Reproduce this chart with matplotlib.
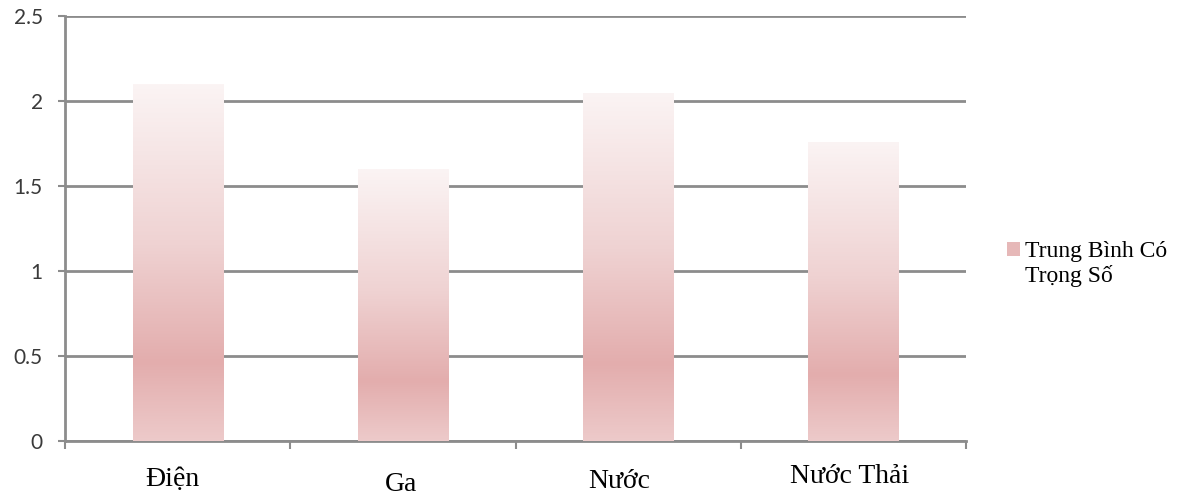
import numpy as np
import matplotlib
matplotlib.use("Agg")
import matplotlib.pyplot as plt
from matplotlib.colors import LinearSegmentedColormap
from matplotlib.patches import Patch, Rectangle
from matplotlib.legend_handler import HandlerPatch
import matplotlib.transforms as mtransforms

categories = ["Điện", "Ga", "Nước", "Nước Thải"]
values = [2.1, 1.6, 2.05, 1.76]
series_name = "Trung Bình Có\nTrọng Số"
yticks = [0, 0.5, 1, 1.5, 2, 2.5]
ytick_labels = ["0", "0.5", "1", "1.5", "2", "2.5"]

# gradient: bottom -> top
grad = LinearSegmentedColormap.from_list(
    "pinkgrad", [(0.0, "#edcaca"), (0.22, "#e3adad"), (0.55, "#efd2d2"), (1.0, "#fbf4f4")])

fig = plt.figure(figsize=(11.78, 4.96), dpi=100)
ax = fig.add_axes([65 / 1178, 55 / 496, 901 / 1178, 425 / 496])

x = np.arange(len(categories))
bars = ax.bar(x, values, width=0.4, color="none", edgecolor="none", zorder=3)
g = np.linspace(0, 1, 256).reshape(-1, 1)
for b in bars:
    x0, w, h = b.get_x(), b.get_width(), b.get_height()
    im = ax.imshow(g, cmap=grad, origin="lower", aspect="auto",
                   extent=(x0, x0 + w, 0, h), zorder=3)
    im.set_clip_path(b)

ax.set_xlim(-0.5, len(categories) - 0.5)
ax.set_ylim(0, 2.5)

ax.set_yticks(yticks)
ax.set_yticklabels(ytick_labels, family="Lato", fontsize=15, color="#3a3a3a")
ax.yaxis.grid(True, color="#8c8c8c", linewidth=2, zorder=1)
ax.set_axisbelow(True)

# category boundaries as x ticks
ax.set_xticks(np.arange(len(categories) + 1) - 0.5)
ax.set_xticklabels([])
ax.tick_params(axis="x", length=6, width=1.5, color="#8c8c8c", direction="out")
ax.tick_params(axis="y", length=5, width=1.5, color="#8c8c8c", pad=11)

for s in ["top", "right"]:
    ax.spines[s].set_visible(False)
for s in ["left", "bottom"]:
    ax.spines[s].set_color("#8c8c8c")
    ax.spines[s].set_linewidth(2)

# the category labels sit a little unevenly in the original
trans = mtransforms.blended_transform_factory(ax.transData, ax.transAxes)
label_dx = [-0.022, -0.009, -0.04, -0.018]
label_dy = [-0.106, -0.118, -0.111, -0.099]
for xi, lab, dx, dy in zip(x, categories, label_dx, label_dy):
    ax.text(xi + dx, dy, lab, transform=trans, ha="center", va="baseline",
            family="Liberation Serif", fontsize=20, color="#000000")


def top_square(legend, orig_handle, xdescent, ydescent, width, height, fontsize):
    # align the swatch with the first line of the label
    return Rectangle((-xdescent, -ydescent + 0.62 * fontsize), width, height)


handle = Patch(facecolor="#e6b8b8", edgecolor="none")
leg = fig.legend([handle], [series_name], loc="center left",
                 bbox_to_anchor=(1007 / 1178, 0.468), frameon=False,
                 prop={"family": "Liberation Serif", "size": 17},
                 handlelength=0.55, handleheight=0.55, handletextpad=0.2,
                 borderpad=0, borderaxespad=0, labelspacing=0,
                 handler_map={Patch: HandlerPatch(patch_func=top_square)})

fig.savefig("out.png", dpi=100)
